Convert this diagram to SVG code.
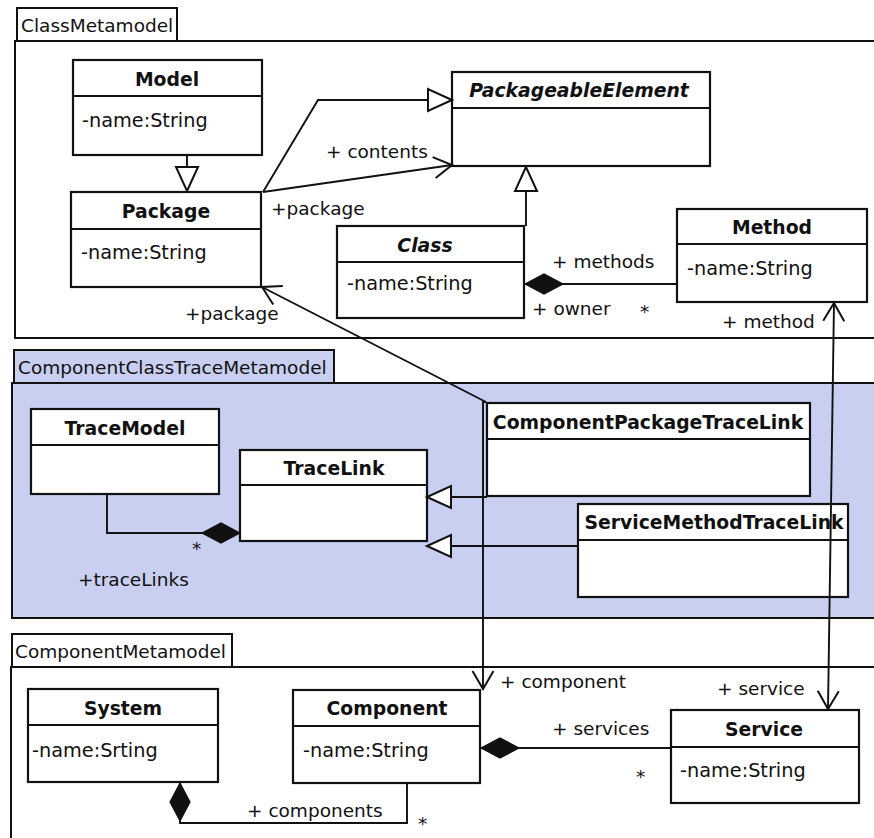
<svg xmlns="http://www.w3.org/2000/svg" width="874" height="838" viewBox="0 0 874 838">
<style>
  text { font-family: "DejaVu Sans", "Liberation Sans", sans-serif; font-size: 18.5px; fill: #111; }
  .at { font-size: 19.3px; }
  .nm { font-weight: bold; text-anchor: middle; font-size: 18.8px; }
  .ab { font-style: italic; }
  .frame { fill: #fff; stroke: #111; stroke-width: 2; }
  .trace { fill: #c8cff0; stroke: #111; stroke-width: 2; }
  .box { fill: #fff; stroke: #111; stroke-width: 2.2; }
  .sep { stroke: #111; stroke-width: 2; }
  .ln { fill: none; stroke: #111; stroke-width: 1.9; }
</style>
<defs>
  <marker id="open" viewBox="-22 -13 24 26" refX="0" refY="0" markerWidth="24" markerHeight="26" markerUnits="userSpaceOnUse" orient="auto-start-reverse">
    <path d="M-18,-10.5 L0,0 L-18,10.5" fill="none" stroke="#111" stroke-width="2"/>
  </marker>
  <marker id="gen" viewBox="-26 -13 28 26" refX="0" refY="0" markerWidth="28" markerHeight="26" markerUnits="userSpaceOnUse" orient="auto">
    <path d="M0,0 L-24,-11 L-24,11 Z" fill="#fff" stroke="#111" stroke-width="2"/>
  </marker>
  <marker id="comp" viewBox="-41 -12 43 24" refX="0" refY="0" markerWidth="43" markerHeight="24" markerUnits="userSpaceOnUse" orient="auto-start-reverse">
    <path d="M0,0 L-19,-10 L-38,0 L-19,10 Z" fill="#111" stroke="#111" stroke-width="1.2"/>
  </marker>
</defs>

<rect width="874" height="838" fill="#fff"/>

<!-- package frames -->
<g id="pkg-class-metamodel">
  <rect class="frame" x="17" y="8" width="160" height="33"/>
  <rect class="frame" x="15" y="41" width="870" height="297"/>
  <text x="21" y="32">ClassMetamodel</text>
</g>
<g id="pkg-trace-metamodel">
  <rect class="trace" x="14" y="350" width="320" height="33"/>
  <rect class="trace" x="12" y="383" width="873" height="235"/>
  <text x="18" y="374">ComponentClassTraceMetamodel</text>
</g>
<g id="pkg-component-metamodel">
  <rect class="frame" x="12" y="634" width="220" height="33"/>
  <rect class="frame" x="11" y="667" width="874" height="190"/>
  <text x="15" y="658">ComponentMetamodel</text>
</g>

<!-- classes -->
<g id="model">
  <rect class="box" x="73" y="60" width="189" height="95"/>
  <line class="sep" x1="73" y1="96" x2="262" y2="96"/>
  <text class="nm" x="167" y="86">Model</text>
  <text class="at" x="82" y="127">-name:String</text>
</g>
<g id="package">
  <rect class="box" x="71" y="192" width="190" height="95"/>
  <line class="sep" x1="71" y1="229" x2="261" y2="229"/>
  <text class="nm" x="166" y="218">Package</text>
  <text class="at" x="81" y="259">-name:String</text>
</g>
<g id="packageable-element">
  <rect class="box" x="452" y="72" width="258" height="94"/>
  <line class="sep" x1="452" y1="108" x2="710" y2="108"/>
  <text class="nm ab" x="579" y="97">PackageableElement</text>
</g>
<g id="class">
  <rect class="box" x="337" y="226" width="187" height="92"/>
  <line class="sep" x1="337" y1="262" x2="524" y2="262"/>
  <text class="nm ab" x="425" y="252">Class</text>
  <text class="at" x="347" y="290">-name:String</text>
</g>
<g id="method">
  <rect class="box" x="677" y="209" width="190" height="93"/>
  <line class="sep" x1="677" y1="244" x2="867" y2="244"/>
  <text class="nm" x="772" y="234">Method</text>
  <text class="at" x="687" y="275">-name:String</text>
</g>
<g id="trace-model">
  <rect class="box" x="31" y="409" width="188" height="85"/>
  <line class="sep" x1="31" y1="445" x2="219" y2="445"/>
  <text class="nm" x="125" y="435">TraceModel</text>
</g>
<g id="trace-link">
  <rect class="box" x="240" y="450" width="187" height="91"/>
  <line class="sep" x1="240" y1="485" x2="427" y2="485"/>
  <text class="nm" x="334" y="475">TraceLink</text>
</g>
<g id="component-package-trace-link">
  <rect class="box" x="487" y="403" width="323" height="93"/>
  <line class="sep" x1="487" y1="439" x2="810" y2="439"/>
  <text class="nm" x="648" y="429">ComponentPackageTraceLink</text>
</g>
<g id="service-method-trace-link">
  <rect class="box" x="578" y="504" width="270" height="93"/>
  <line class="sep" x1="578" y1="540" x2="848" y2="540"/>
  <text class="nm" x="714" y="529">ServiceMethodTraceLink</text>
</g>
<g id="system">
  <rect class="box" x="28" y="689" width="190" height="93"/>
  <line class="sep" x1="28" y1="725" x2="218" y2="725"/>
  <text class="nm" x="123" y="715">System</text>
  <text class="at" x="32" y="757">-name:Srting</text>
</g>
<g id="component">
  <rect class="box" x="293" y="690" width="187" height="93"/>
  <line class="sep" x1="293" y1="726" x2="480" y2="726"/>
  <text class="nm" x="387" y="715">Component</text>
  <text class="at" x="303" y="757">-name:String</text>
</g>
<g id="service">
  <rect class="box" x="671" y="710" width="188" height="93"/>
  <line class="sep" x1="671" y1="747" x2="859" y2="747"/>
  <text class="nm" x="764" y="736">Service</text>
  <text class="at" x="680" y="777">-name:String</text>
</g>

<!-- connectors -->
<g id="connectors">
  <!-- generalizations -->
  <path class="ln" d="M187,155 L187,191" marker-end="url(#gen)"/>
  <path class="ln" d="M263,192 L318,100 L452,100" marker-end="url(#gen)"/>
  <path class="ln" d="M526,226 L526,167" marker-end="url(#gen)"/>
  <path class="ln" d="M487,497 L427,497" marker-end="url(#gen)"/>
  <path class="ln" d="M578,546 L427,546" marker-end="url(#gen)"/>
  <!-- associations -->
  <path class="ln" d="M263,192 L452,165" marker-end="url(#open)"/>
  <path class="ln" d="M262,287 L486,402 L483,402 L483,689" marker-start="url(#open)" marker-end="url(#open)"/>
  <path class="ln" d="M834,303 L828,709" marker-start="url(#open)" marker-end="url(#open)"/>
  <!-- compositions -->
  <path class="ln" d="M677,284 L525,284" marker-end="url(#comp)"/>
  <path class="ln" d="M107,494 L107,533 L240,533" marker-end="url(#comp)"/>
  <path class="ln" d="M407,783 L407,823 L180,823 L180,783" marker-end="url(#comp)"/>
  <path class="ln" d="M671,748 L481,748" marker-end="url(#comp)"/>

  <!-- role names and multiplicities -->
  <text x="326" y="158">+ contents</text>
  <text x="271" y="215">+package</text>
  <text x="185" y="320">+package</text>
  <text x="552" y="268">+ methods</text>
  <text x="532" y="315">+ owner</text>
  <text x="640" y="318">*</text>
  <text x="722" y="328">+ method</text>
  <text x="192" y="555">*</text>
  <text x="78" y="586">+traceLinks</text>
  <text x="500" y="688">+ component</text>
  <text x="717" y="695">+ service</text>
  <text x="552" y="735">+ services</text>
  <text x="636" y="783">*</text>
  <text x="247" y="817">+ components</text>
  <text x="418" y="830">*</text>
</g>
</svg>
